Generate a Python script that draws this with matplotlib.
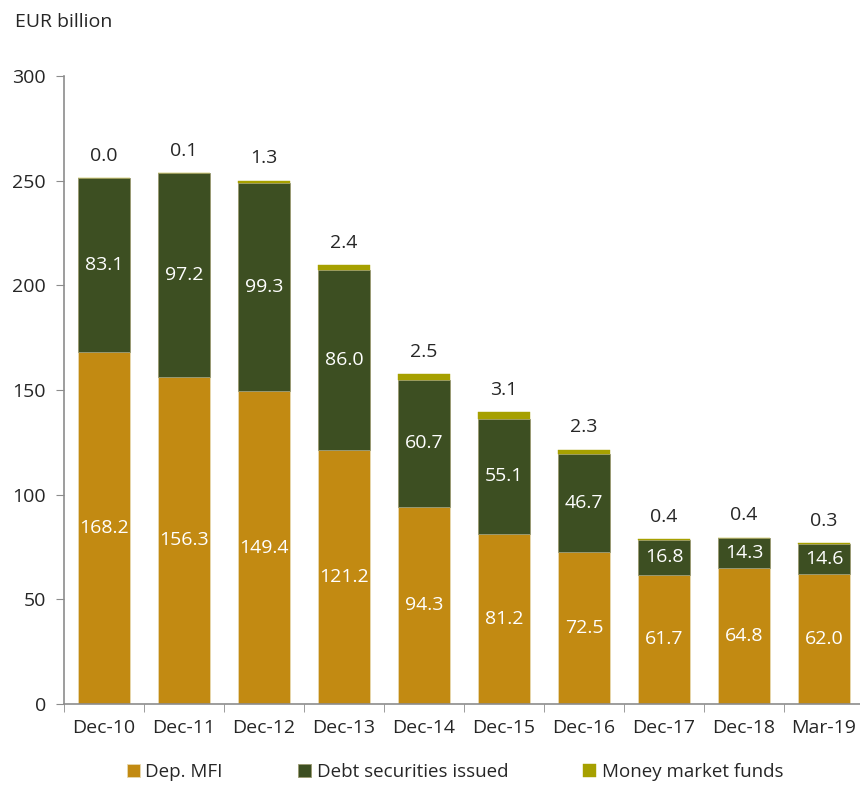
import matplotlib
matplotlib.use('Agg')
import matplotlib.pyplot as plt
import numpy as np

plt.rcParams['font.family'] = ['Open Sans', 'DejaVu Sans']

categories = ['Dec-10', 'Dec-11', 'Dec-12', 'Dec-13', 'Dec-14',
              'Dec-15', 'Dec-16', 'Dec-17', 'Dec-18', 'Mar-19']
dep_mfi = [168.2, 156.3, 149.4, 121.2, 94.3, 81.2, 72.5, 61.7, 64.8, 62.0]
debt_sec = [83.1, 97.2, 99.3, 86.0, 60.7, 55.1, 46.7, 16.8, 14.3, 14.6]
mmf = [0.0, 0.1, 1.3, 2.4, 2.5, 3.1, 2.3, 0.4, 0.4, 0.3]

c_mfi = '#C28A12'
c_debt = '#3D4F22'
c_mmf = '#A6A000'
grey = '#8C8C8C'
txt = '#262626'
fs = 14

fig = plt.figure(figsize=(8.6, 7.85), dpi=100)
ax = fig.add_axes([64 / 860, 1 - 704 / 785, 800 / 860, (704 - 76) / 785])

x = np.arange(len(categories))
w = 0.66
mfi = np.array(dep_mfi)
debt = np.array(debt_sec)
mm = np.array(mmf)

b1 = ax.bar(x, mfi, w, color=c_mfi, edgecolor='#E8D9B0', linewidth=0.6, label='Dep. MFI')
b2 = ax.bar(x, debt, w, bottom=mfi, color=c_debt, edgecolor='#9A9A70', linewidth=0.6,
            label='Debt securities issued')
b3 = ax.bar(x, mm, w, bottom=mfi + debt, color=c_mmf, edgecolor=c_mmf, linewidth=0.3,
            label='Money market funds')

# white labels inside the two big segments, dark label above for the thin MMF slice
for i in range(len(x)):
    ax.text(x[i], mfi[i] / 2, f'{mfi[i]:.1f}', ha='center', va='center',
            color='white', fontsize=fs)
    ax.text(x[i], mfi[i] + debt[i] / 2, f'{debt[i]:.1f}', ha='center', va='center',
            color='white', fontsize=fs)
    ax.annotate(f'{mm[i]:.1f}', (x[i], mfi[i] + debt[i] + mm[i]),
                xytext=(0, 16), textcoords='offset points', ha='center', va='center',
                color=txt, fontsize=fs)

ax.set_xlim(-0.5, len(x) - 0.5)
ax.set_ylim(0, 300)
ax.set_yticks(np.arange(0, 301, 50))
ax.set_xticks(x)
ax.set_xticklabels(categories)
ax.set_xticks(np.arange(-0.5, len(x), 1), minor=True)
ax.tick_params(axis='x', which='major', length=0, pad=11, labelsize=fs, labelcolor=txt)
ax.tick_params(axis='x', which='minor', length=6, direction='out', color=grey)
ax.tick_params(axis='y', length=6, direction='out', color=grey, labelsize=fs,
               labelcolor=txt, pad=7)

for s in ['top', 'right']:
    ax.spines[s].set_visible(False)
for s in ['left', 'bottom']:
    ax.spines[s].set_color(grey)
    ax.spines[s].set_linewidth(1.2)

fig.text(15 / 860, 1 - 22 / 785, 'EUR billion', ha='left', va='center',
         fontsize=fs, color=txt)

fig.legend(handles=[b1, b2, b3], loc='center', bbox_to_anchor=(455 / 860, 1 - 772 / 785),
           ncol=3, frameon=False, fontsize=13.5, handlelength=0.7, handleheight=0.7,
           handletextpad=0.3, columnspacing=4.0, labelcolor=txt)

fig.savefig('out.png', dpi=100)
